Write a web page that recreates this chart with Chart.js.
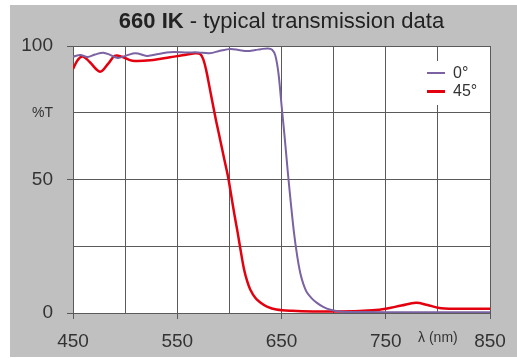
<!DOCTYPE html>
<html>
<head>
<meta charset="utf-8">
<script src="https://cdn.jsdelivr.net/npm/chart.js@4/dist/chart.umd.min.js"></script>
<style>
  html, body { margin: 0; padding: 0; background: #ffffff; width: 517px; height: 358px; overflow: hidden; }
  #frame { position: absolute; left: 10px; top: 5px; width: 507px; height: 352px; background: #c0c0c0; }
  #title { position: absolute; left: 63px; width: 417px; top: 3px; text-align: center;
           font-family: "Liberation Sans", Arial, sans-serif; font-size: 22px; color: #222; white-space: nowrap; }
  #title b { font-weight: bold; }
  .leg { position: absolute; font-family: "Liberation Sans", Arial, sans-serif; font-size: 16px; color: #333; line-height: 16px; }
  .legline { position: absolute; width: 18px; height: 2px; }
  #legbox { position: absolute; left: 415px; top: 56px; width: 30px; height: 44px; background: #fff; }
  canvas { position: absolute; left: 0; top: 0; }
</style>
</head>
<body>
<div id="frame">
  <canvas id="c" width="507" height="352"></canvas>
  <div id="title"><b>660 IK</b> - typical transmission data</div>
  <div id="legbox"></div>
  <div class="legline" style="left:417px;top:67px;background:#7b62a3;"></div>
  <div class="leg" style="left:443px;top:60px;">0°</div>
  <div class="legline" style="left:417px;top:85px;height:3px;background:#e3000f;"></div>
  <div class="leg" style="left:443px;top:78px;">45°</div>
</div>
<script>
// ---- data ----
const wl0  = [450, 457, 464, 471, 479, 486, 493, 501, 510, 521, 532, 543, 560, 570, 581, 591, 601, 609, 617, 625, 630, 637, 641, 644, 647, 650, 653, 656, 659, 662, 665, 668, 671, 674, 679, 684, 690, 697, 705, 720, 750, 800, 850];
const t0   = [96, 96.6, 95.9, 96.8, 97.5, 96.6, 95.5, 96.4, 97.3, 96.3, 97.0, 97.7, 97.6, 97.6, 97.3, 98.2, 98.9, 98.5, 98.1, 98.5, 98.8, 99.1, 98.6, 96.5, 90, 78, 66, 53, 41, 30, 21.5, 15, 10.8, 8, 5.5, 3.8, 2.3, 1.2, 0.6, 0.4, 0.3, 0.3, 0.3];

const wl45 = [450, 455, 460, 466, 476, 484, 490, 497, 507, 527, 543, 555, 567, 572, 575, 578, 581, 584, 587, 590, 593, 596, 599, 602, 605, 608, 611, 614, 617, 620, 625, 630, 636, 645, 660, 680, 720, 737, 750, 765, 779, 790, 800, 815, 850];
const t45  = [91.4, 95, 96, 94, 90.4, 93.5, 96.3, 96, 94.5, 94.8, 95.8, 96.5, 97.3, 97, 95, 90.5, 84.5, 78.5, 72.5, 67, 61.5, 56, 50.5, 43.5, 36.5, 30, 23, 16.5, 12, 8.8, 5.6, 3.8, 2.4, 1.3, 0.8, 0.6, 0.7, 1, 1.6, 2.8, 3.8, 3, 2, 1.6, 1.6];

const seriesNames = ['0°', '45°'];
const xTickValues = [450, 550, 650, 750, 800, 850];
const xTickLabels = ['450', '550', '650', '750', 'λ (nm)', '850'];
const yTickValues = [0, 50, 75, 100];
const yTickLabels = ['0', '50', '%T', '100'];

const FONT = '"Liberation Sans", Arial, sans-serif';
const GRID = '#5a5a5a';

const plotBg = {
  id: 'plotBg',
  beforeDraw(chart) {
    const { ctx, chartArea: a } = chart;
    ctx.save();
    ctx.fillStyle = '#ffffff';
    ctx.fillRect(a.left, a.top, a.right - a.left, a.bottom - a.top);
    ctx.restore();
  }
};

new Chart(document.getElementById('c'), {
  type: 'line',
  data: {
    datasets: [
      { label: seriesNames[0], data: wl0.map((x, i) => ({ x, y: t0[i] })), borderColor: '#7b62a3', borderWidth: 2, pointRadius: 0, tension: 0.35 },
      { label: seriesNames[1], data: wl45.map((x, i) => ({ x, y: t45[i] })), borderColor: '#e3000f', borderWidth: 2.5, pointRadius: 0, tension: 0.35 }
    ]
  },
  options: {
    responsive: false,
    animation: false,
    devicePixelRatio: 1,
    layout: { padding: { top: 41, right: 27, left: 0, bottom: 0 } },
    plugins: { legend: { display: false }, title: { display: false }, tooltip: { enabled: false } },
    scales: {
      x: {
        type: 'linear', min: 450, max: 850,
        afterFit: s => { s.height = 44; },
        ticks: {
          stepSize: 50, autoSkip: false, maxRotation: 0, padding: 11, color: '#333',
          callback: v => { const i = xTickValues.indexOf(v); return i >= 0 ? xTickLabels[i] : ''; },
          font: ctx => (ctx.tick && ctx.tick.value === 800) ? { family: FONT, size: 14 } : { family: FONT, size: 19 }
        },
        grid: {
          color: GRID, lineWidth: 1, tickLength: 6,
          tickColor: ctx => (ctx.tick && [450, 550, 650, 750, 850].includes(ctx.tick.value)) ? GRID : 'rgba(0,0,0,0)'
        },
        border: { color: GRID }
      },
      y: {
        min: 0, max: 100,
        afterFit: s => { s.width = 63; },
        ticks: {
          stepSize: 25, padding: 14, color: '#333',
          callback: v => { const i = yTickValues.indexOf(v); return i >= 0 ? yTickLabels[i] : ''; },
          font: ctx => (ctx.tick && ctx.tick.value === 75) ? { family: FONT, size: 14 } : { family: FONT, size: 19 }
        },
        grid: {
          color: GRID, lineWidth: 1, tickLength: 6,
          tickColor: ctx => (ctx.tick && ctx.tick.value % 50 === 0) ? GRID : 'rgba(0,0,0,0)'
        },
        border: { color: GRID }
      }
    }
  },
  plugins: [plotBg]
});
</script>
</body>
</html>
